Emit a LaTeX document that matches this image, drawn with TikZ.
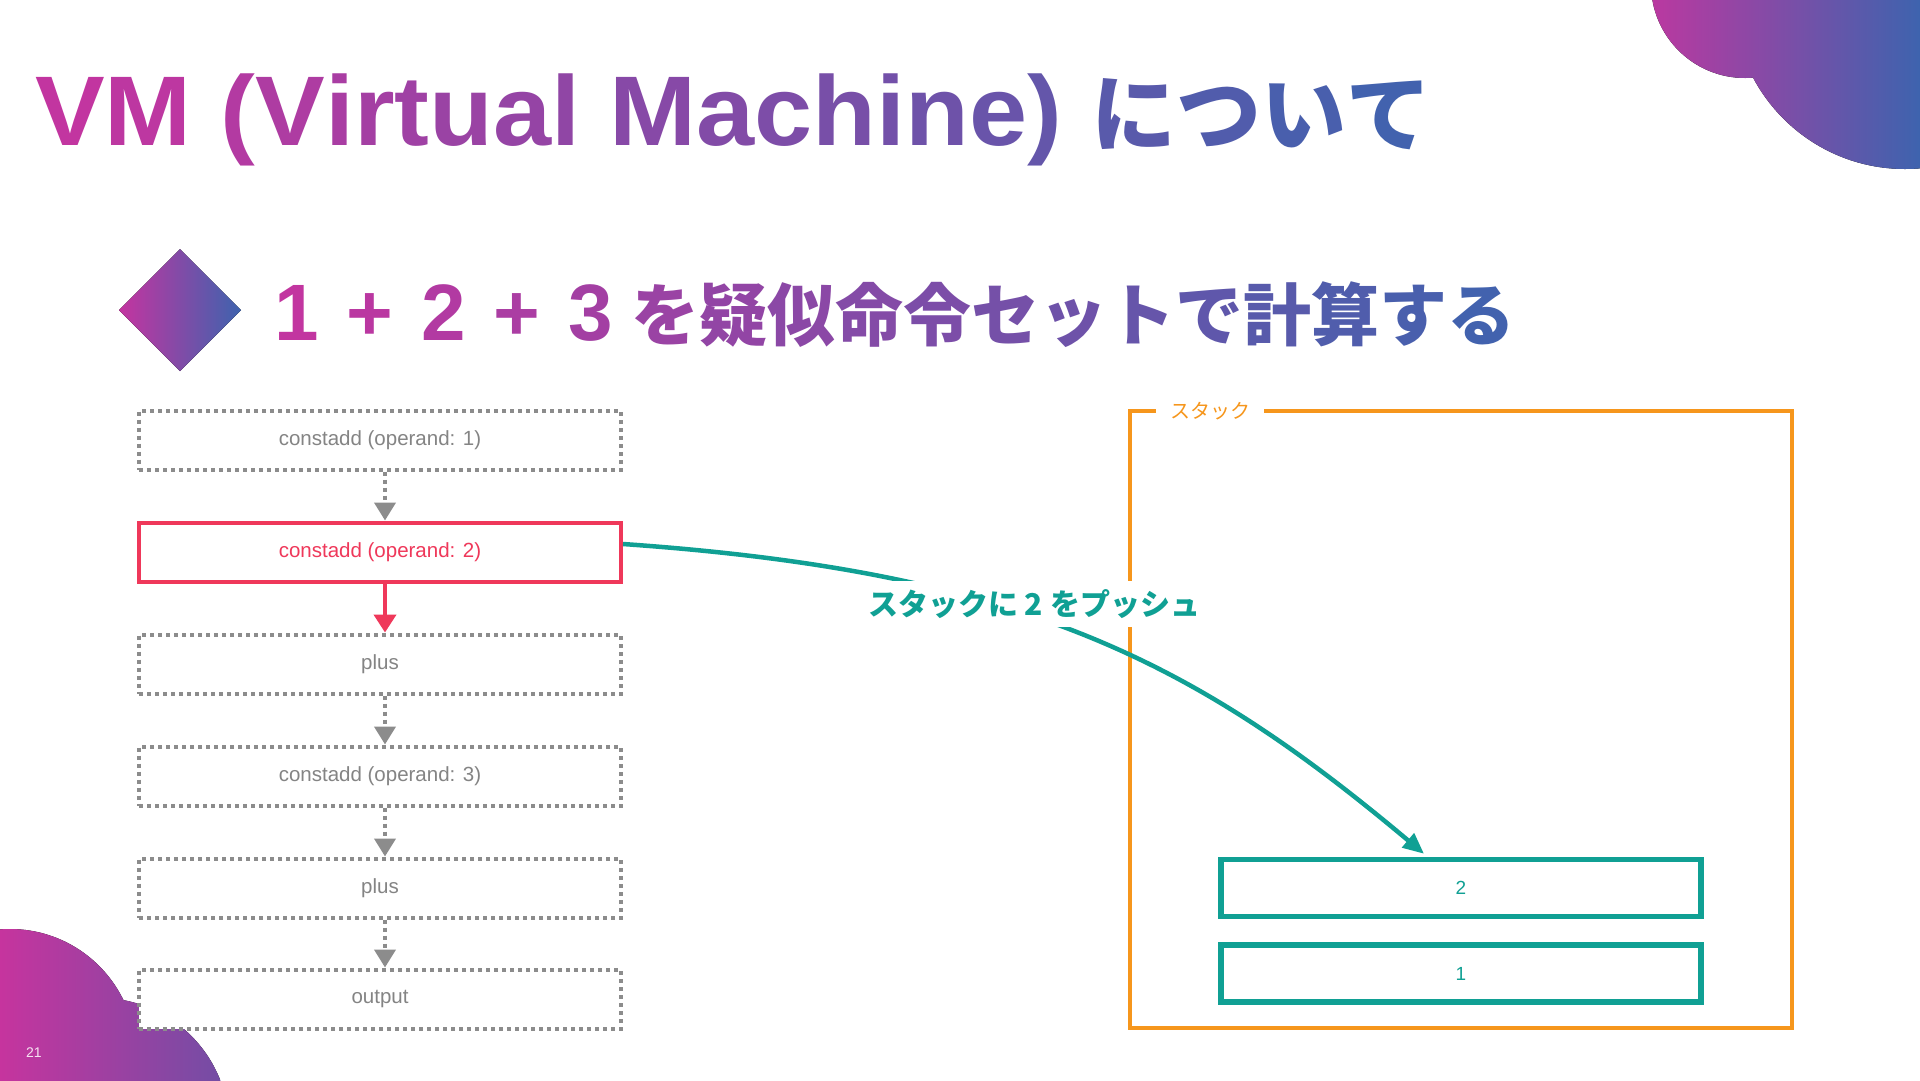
\documentclass[tikz,border=0pt]{standalone}
\usepackage{fontspec}
\setmainfont{Liberation Sans}
\newfontfamily\cjk{Noto Sans CJK JP}
\usetikzlibrary{arrows.meta}
\definecolor{gA}{RGB}{196,52,160}
\definecolor{gB}{RGB}{62,99,174}
\definecolor{blobL}{RGB}{198,52,158}
\definecolor{blobLR}{RGB}{112,78,165}
\definecolor{blobRL}{RGB}{188,56,160}
\definecolor{opgrey}{RGB}{140,140,140}
\definecolor{optext}{RGB}{132,132,132}
\definecolor{opred}{RGB}{239,56,90}
\definecolor{stteal}{RGB}{16,160,148}
\definecolor{storange}{RGB}{246,150,28}
\makeatletter
\newcount\grN \newcount\grI
\newcommand\gsp{\hspace*{28pt}}
\newcommand\gspend{\hspace*{18pt}}
% #1 start fraction, #2 end fraction, #3 tokens
\newcommand\gradtext[3]{%
  \global\grN=0 \@tfor\gr@c:=#3\do{\global\advance\grN by 1}%
  \global\grI=0
  \@tfor\gr@c:=#3\do{%
    \pgfmathsetmacro\gr@p{100*(#1+(#2-#1)*(\the\grI+0.5)/\the\grN)}%
    \textcolor{gB!\gr@p!gA}{\gr@c}%
    \global\advance\grI by 1}%
}
\makeatother
\tikzset{
  opbox/.style={draw=opgrey, line width=4pt, dash pattern=on 4pt off 4pt,
    fill=white, minimum width=482pt, minimum height=59pt, inner sep=0pt,
    text=optext, font=\fontsize{20.5}{24}\selectfont},
  curbox/.style={opbox, draw=opred, solid, line width=4pt, text=opred},
  flow/.style={draw=opgrey, line width=4pt, dash pattern=on 4pt off 4pt,
    -{Triangle[width=21pt,length=18pt]}},
  curflow/.style={draw=opred, line width=4pt, -{Triangle[width=22pt,length=18pt]}},
  stackbox/.style={draw=stteal, line width=5.5pt, minimum width=480pt,
    minimum height=57pt, inner sep=0pt, text=stteal, font=\fontsize{19}{22}\selectfont},
  stackframe/.style={draw=storange, line width=4pt, minimum width=662pt,
    minimum height=617pt, inner sep=0pt},
  push/.style={draw=stteal, line width=4.5pt, -{Triangle[width=18pt,length=21pt]}},
}
\begin{document}
\begin{tikzpicture}[x=1pt,y=-1pt]
\useasboundingbox (0,0) rectangle (1920,1080);
\fill[white] (0,0) rectangle (1920,1080);
% decorative blobs
\begin{scope}
  \clip (1745,-16) circle (94pt) (1905,-3) circle (172pt);
  \fill[left color=blobRL, right color=gB] (1648,0) rectangle (1920,176);
\end{scope}
\begin{scope}
  \clip (10,1055) circle (126pt) (100,1127) circle (129pt);
  \fill[left color=blobL, right color=blobLR] (0,925) rectangle (232,1080);
\end{scope}
% title
\node[anchor=base west, inner sep=0pt] (title) at (35,145)
  {\scalebox{1.055}[1]{\bfseries\fontsize{99}{100}\selectfont\gradtext{0}{0.77}{VM~(Virtual~Machine)~}}%
   {\cjk\bfseries\fontsize{85}{90}\selectfont\gradtext{0.77}{1}{について}}};
% diamond bullet
\fill[left color=gA, right color=gB] (119,310) -- (180,249) -- (241,310) -- (180,371) -- cycle;
\node[anchor=base west, inner sep=0pt] (subtitle) at (274,340)
  {{\bfseries\fontsize{80}{80}\selectfont\gradtext{0}{0.29}{1\gsp+\gsp2\gsp+\gsp3\gspend}}%
   {\cjk\bfseries\fontsize{68}{70}\selectfont\gradtext{0.29}{1}{を疑似命令セットで計算する}}};
% instruction flow
\node[opbox] (i1) at (380,440) {constadd (operand: 1)};
\node[curbox] (i2) at (380,552) {constadd (operand: 2)};
\node[opbox] (i3) at (380,664) {plus};
\node[opbox] (i4) at (380,776) {constadd (operand: 3)};
\node[opbox] (i5) at (380,888) {plus};
\node[opbox] (i6) at (380,999) {output};
\draw[flow] ([xshift=5pt]i1.south) -- ([xshift=5pt]i2.north);
\draw[curflow] ([xshift=5pt]i2.south) -- ([xshift=5pt]i3.north);
\draw[flow] ([xshift=5pt]i3.south) -- ([xshift=5pt]i4.north);
\draw[flow] ([xshift=5pt]i4.south) -- ([xshift=5pt]i5.north);
\draw[flow] ([xshift=5pt]i5.south) -- ([xshift=5pt]i6.north);
% stack
\node[stackframe] (stack) at (1461,719.5) {};
\node[fill=white, inner xsep=14pt, inner ysep=4pt, text=storange,
  font=\cjk\fontsize{20}{22}\selectfont] (stacklbl) at (1210,411) {スタック};
\node[stackbox] (s2) at (1461,888) {2};
\node[stackbox] (s1) at (1461,973.5) {1};
% push connector
\draw[push] ([yshift=8pt]i2.east) .. controls +(400,28) and +(-230,-193) .. ([xshift=-37pt,yshift=3pt]s2.north);
\node[fill=white, inner xsep=7pt, inner ysep=8pt, text=stteal,
  font=\cjk\bfseries\fontsize{30}{32}\selectfont] (pushlbl) at (1034,604) {スタックに 2 をプッシュ};
% page number
\node[text=white!85!gA, font=\fontsize{14}{16}\selectfont] (pnum) at (34,1053) {21};
\end{tikzpicture}
\end{document}
